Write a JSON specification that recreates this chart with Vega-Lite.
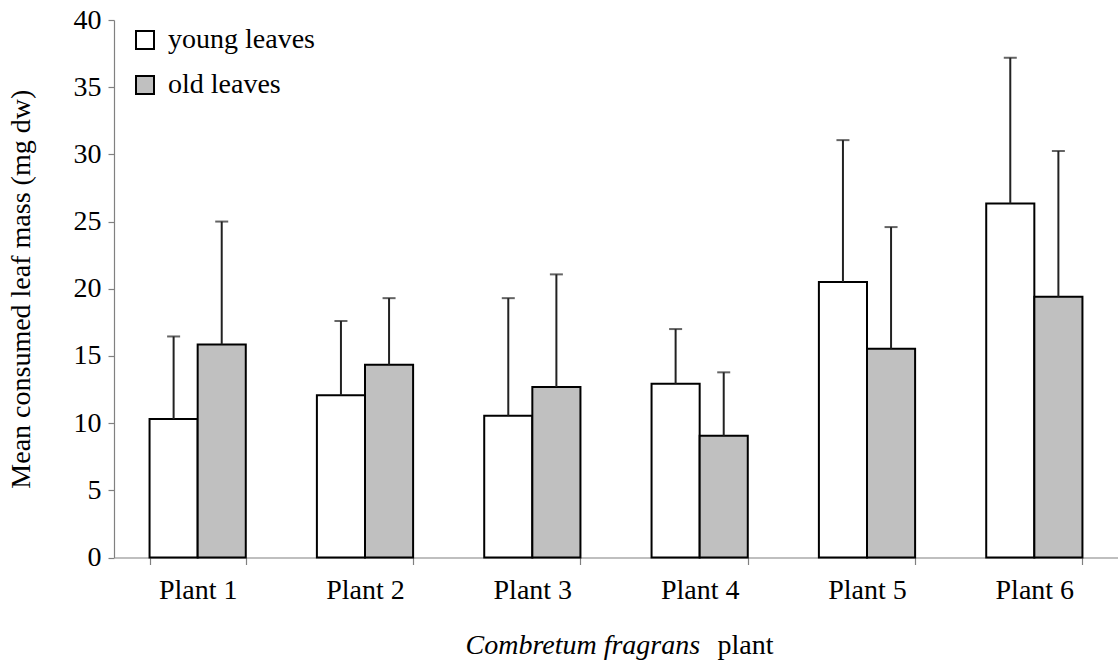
{
  "$schema": "https://vega.github.io/schema/vega-lite/v6.json",
  "width": 1004,
  "height": 537.5,
  "autosize": {"type": "none"},
  "padding": {"left": 114, "top": 20, "right": 0, "bottom": 104.5},
  "background": "white",
  "config": {
    "view": {"stroke": null},
    "font": "'Liberation Serif', 'Times New Roman', 'DejaVu Serif', serif",
    "axis": {"labelFont": "'Liberation Serif', 'Times New Roman', 'DejaVu Serif', serif", "titleFont": "'Liberation Serif', 'Times New Roman', 'DejaVu Serif', serif", "labelColor": "black", "titleColor": "black", "titleFontWeight": "normal", "grid": false, "domainColor": "#808080", "tickColor": "#808080", "domainWidth": 1.2, "tickWidth": 1.2},
    "legend": {"labelFont": "'Liberation Serif', 'Times New Roman', 'DejaVu Serif', serif"}
  },
  "data": {
    "values": [
      {"plant": "Plant 1", "type": "young leaves", "mean": 10.3, "upper": 16.45},
      {"plant": "Plant 1", "type": "old leaves", "mean": 15.86, "upper": 25.0},
      {"plant": "Plant 2", "type": "young leaves", "mean": 12.07, "upper": 17.6},
      {"plant": "Plant 2", "type": "old leaves", "mean": 14.35, "upper": 19.3},
      {"plant": "Plant 3", "type": "young leaves", "mean": 10.55, "upper": 19.3},
      {"plant": "Plant 3", "type": "old leaves", "mean": 12.69, "upper": 21.07},
      {"plant": "Plant 4", "type": "young leaves", "mean": 12.93, "upper": 17.0},
      {"plant": "Plant 4", "type": "old leaves", "mean": 9.06, "upper": 13.78},
      {"plant": "Plant 5", "type": "young leaves", "mean": 20.5, "upper": 31.06},
      {"plant": "Plant 5", "type": "old leaves", "mean": 15.54, "upper": 24.59},
      {"plant": "Plant 6", "type": "young leaves", "mean": 26.35, "upper": 37.19},
      {"plant": "Plant 6", "type": "old leaves", "mean": 19.4, "upper": 30.25}
    ]
  },
  "layer": [
    {
      "mark": {"type": "bar", "stroke": "black", "strokeWidth": 2},
      "encoding": {
        "x": {"field": "plant", "type": "nominal", "sort": null,
              "scale": {"paddingInner": 0.425, "paddingOuter": 0.2125},
              "axis": {"title": "Combretum fragrans", "titleFontStyle": "italic", "titleFontSize": 28, "titleAnchor": "start", "titleX": 351, "titleY": 95.5, "titleBaseline": "alphabetic", "labelAngle": 0, "labelFontSize": 28, "labelPadding": 12, "tickBand": "extent", "tickSize": 7, "orient": "bottom"}},
        "xOffset": {"field": "type", "type": "nominal", "sort": ["young leaves", "old leaves"], "scale": {"paddingInner": 0, "paddingOuter": 0}},
        "y": {"field": "mean", "type": "quantitative", "title": "Mean consumed leaf mass (mg dw)",
              "scale": {"domain": [0, 40], "nice": false},
              "axis": {"values": [0, 5, 10, 15, 20, 25, 30, 35, 40], "labelFontSize": 28, "titleFontSize": 28, "tickSize": 6, "labelPadding": 7, "titlePadding": 38}},
        "fill": {"field": "type", "type": "nominal", "sort": ["young leaves", "old leaves"],
                 "scale": {"domain": ["young leaves", "old leaves"], "range": ["white", "#C0C0C0"]},
                 "legend": {"title": null, "orient": "none", "legendX": 17, "legendY": 6, "symbolType": "square", "symbolSize": 324, "symbolStrokeColor": "black", "symbolStrokeWidth": 2, "labelFontSize": 28, "labelColor": "black", "labelOffset": 9, "rowPadding": 17, "padding": 0}}
      }
    },
    {
      "mark": {"type": "rule", "color": "#222222", "strokeWidth": 2},
      "encoding": {
        "x": {"field": "plant", "type": "nominal", "sort": null,
              "scale": {"paddingInner": 0.425, "paddingOuter": 0.2125},
              "axis": {"title": "plant", "titleFontSize": 28, "titleAnchor": "start", "titleX": 603, "titleY": 95.5, "titleBaseline": "alphabetic", "labels": false, "ticks": false, "domain": false, "orient": "bottom"}},
        "xOffset": {"field": "type", "type": "nominal", "sort": ["young leaves", "old leaves"], "scale": {"paddingInner": 0, "paddingOuter": 0}},
        "y": {"field": "mean", "type": "quantitative", "title": "Mean consumed leaf mass (mg dw)"},
        "y2": {"field": "upper"}
      }
    },
    {
      "mark": {"type": "tick", "color": "#222222", "thickness": 2, "size": 13, "orient": "horizontal"},
      "encoding": {
        "x": {"field": "plant", "type": "nominal", "sort": null, "axis": null,
              "scale": {"paddingInner": 0.425, "paddingOuter": 0.2125}},
        "xOffset": {"field": "type", "type": "nominal", "sort": ["young leaves", "old leaves"], "scale": {"paddingInner": 0, "paddingOuter": 0}},
        "y": {"field": "upper", "type": "quantitative", "title": "Mean consumed leaf mass (mg dw)"}
      }
    }
  ],
  "resolve": {"axis": {"x": "independent"}}
}
